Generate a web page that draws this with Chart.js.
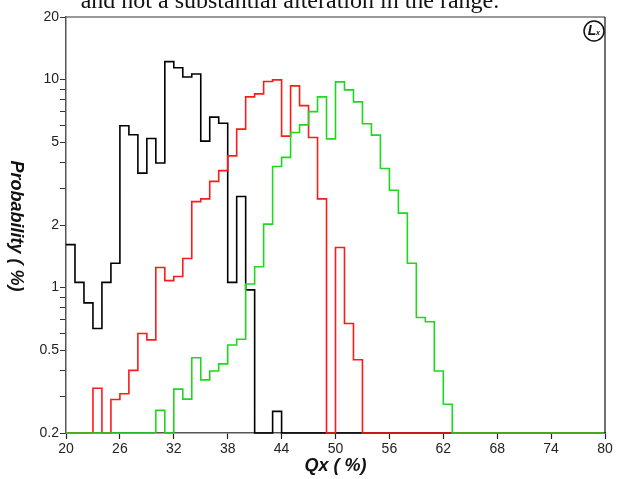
<!DOCTYPE html>
<html>
<head>
<meta charset="utf-8">
<script src="https://cdn.jsdelivr.net/npm/chart.js@4"></script>
<style>
  html, body { margin: 0; padding: 0; background: #fff; overflow: hidden; }
  #wrap { position: relative; width: 618px; height: 479px; }
  #cut { position: absolute; left: 0; width: 580px; top: -12px; text-align: center;
         font: 24px/24px "Liberation Serif", "DejaVu Serif", serif; color: #111; }
</style>
</head>
<body>
<div id="wrap">
  <div id="cut">and not a substantial alteration in the range.</div>
  <canvas id="qxChart" width="618" height="479"></canvas>
</div>
<script>
// bins are 1 % wide, first bin starts at 20 %; bins past the last listed value are empty
const binStart = 20;
const xMax = 80;
const yMin = 0.2;
const yMax = 20;

const blackProb = [1.61, 1.06, 0.845, 0.636, 1.06, 1.31, 6.0, 5.43, 3.55, 5.21,
                   3.97, 12.2, 11.4, 10.3, 10.65, 5.06, 6.6, 6.17, 1.06, 2.74,
                   0.975, 0, 0, 0.254];
const redProb = [0, 0, 0, 0.328, 0, 0.29, 0.309, 0.4, 0.602, 0.561,
                 1.25, 1.08, 1.13, 1.38, 2.59, 2.67, 3.24, 3.65, 4.3, 5.78,
                 8.26, 8.54, 9.79, 9.97, 5.35, 9.33, 7.5, 5.27, 2.67, 0,
                 1.56, 0.672, 0.45];
const greenProb = [0, 0, 0, 0, 0, 0, 0, 0, 0, 0,
                   0.257, 0, 0.325, 0.291, 0.46, 0.36, 0.397, 0.43, 0.53, 0.565,
                   1.04, 1.26, 2.02, 3.82, 4.23, 5.57, 6.06, 7.02, 8.26, 5.19,
                   9.75, 8.93, 7.82, 6.13, 5.41, 3.74, 2.94, 2.28, 1.31, 0.718,
                   0.685, 0.397, 0.275];

const xTicks = [20, 26, 32, 38, 44, 50, 56, 62, 68, 74, 80];
const yTicks = [0.2, 0.3, 0.4, 0.5, 0.6, 0.7, 0.8, 0.9, 1, 2, 3, 4, 5, 6, 7, 8, 9, 10, 20];
const yLabels = [0.2, 0.5, 1, 2, 5, 10, 20];

// one point per bin edge, empty bins sit on the bottom of the log axis
function toSteps(values) {
  const pts = [{ x: binStart, y: Math.max(values[0] || 0, yMin) }];
  for (let x = binStart; x < xMax; x++) {
    const v = values[x - binStart] || 0;
    pts.push({ x: x + 1, y: Math.max(v, yMin) });
  }
  return pts;
}

function series(label, values, color, order) {
  return {
    label: label,
    data: toSteps(values),
    borderColor: color,
    borderWidth: 1.6,
    stepped: 'after',
    pointRadius: 0,
    fill: false,
    clip: 3,
    order: order
  };
}

const frame = {
  id: 'frame',
  afterDraw(chart) {
    const { ctx, chartArea: a } = chart;
    ctx.save();
    // top and right border
    ctx.strokeStyle = '#777';
    ctx.lineWidth = 1.5;
    ctx.beginPath();
    ctx.moveTo(a.left, a.top);
    ctx.lineTo(a.right, a.top);
    ctx.stroke();
    ctx.strokeStyle = '#111';
    ctx.lineWidth = 1.2;
    ctx.beginPath();
    ctx.moveTo(a.right, a.top);
    ctx.lineTo(a.right, a.bottom);
    ctx.stroke();

    // y title, reads top to bottom
    ctx.fillStyle = '#111';
    ctx.font = 'italic bold 18px "Liberation Sans", Arial, sans-serif';
    ctx.textAlign = 'center';
    ctx.textBaseline = 'middle';
    ctx.translate(16, 226);
    ctx.rotate(Math.PI / 2);
    ctx.fillText('Probability ( %)', 0, 0);
    ctx.restore();

    // badge in the corner
    ctx.save();
    ctx.strokeStyle = '#111';
    ctx.lineWidth = 1.5;
    ctx.beginPath();
    ctx.arc(594, 31, 10, 0, Math.PI * 2);
    ctx.stroke();
    ctx.fillStyle = '#111';
    ctx.font = 'italic bold 14px "Liberation Sans", Arial, sans-serif';
    ctx.textAlign = 'center';
    ctx.textBaseline = 'middle';
    ctx.fillText('L', 592, 31);
    ctx.font = 'italic bold 7px "Liberation Sans", Arial, sans-serif';
    ctx.fillText('x', 598, 33);
    ctx.restore();
  }
};

const tickFont = { family: '"Liberation Sans", Arial, sans-serif', size: 14 };

new Chart(document.getElementById('qxChart'), {
  type: 'line',
  data: {
    datasets: [
      series('black', blackProb, '#000000', 3),
      series('red', redProb, '#ff1a1a', 2),
      series('green', greenProb, '#1ed81e', 1)
    ]
  },
  options: {
    responsive: false,
    animation: false,
    layout: { padding: { top: 17, right: 13, left: 0, bottom: 0 } },
    plugins: {
      legend: { display: false },
      tooltip: { enabled: false }
    },
    scales: {
      x: {
        type: 'linear',
        min: 20,
        max: 80,
        afterBuildTicks: (scale) => { scale.ticks = xTicks.map(v => ({ value: v })); },
        afterFit: (scale) => { scale.height = 46; },
        ticks: { font: tickFont, color: '#222', padding: 2, maxRotation: 0 },
        grid: { drawOnChartArea: false, drawTicks: true, tickLength: 6, color: '#222', tickWidth: 1.2 },
        border: { display: true, color: '#555', width: 1.5 },
        title: {
          display: true,
          text: 'Qx ( %)',
          color: '#111',
          font: { family: '"Liberation Sans", Arial, sans-serif', size: 18, style: 'italic', weight: 'bold' },
          padding: { top: 0, bottom: 2 }
        }
      },
      y: {
        type: 'logarithmic',
        min: yMin,
        max: yMax,
        afterBuildTicks: (scale) => { scale.ticks = yTicks.map(v => ({ value: v })); },
        afterFit: (scale) => { scale.width = 66; },
        ticks: {
          font: tickFont,
          color: '#222',
          padding: 1,
          autoSkip: false,
          callback: (v) => yLabels.includes(Number(v.toFixed(1))) ? String(Number(v.toFixed(1))) : ''
        },
        grid: { drawOnChartArea: false, drawTicks: true, tickLength: 6, color: '#333', tickWidth: 1 },
        border: { display: true, color: '#555', width: 1.5 }
      }
    }
  },
  plugins: [frame]
});
</script>
</body>
</html>
